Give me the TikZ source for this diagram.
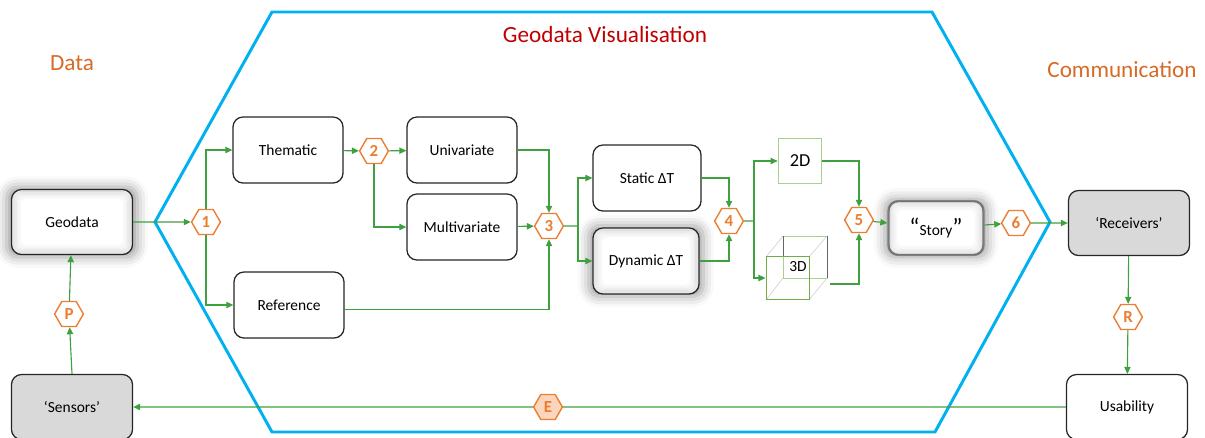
\documentclass[tikz,border=0pt]{standalone}
\usepackage{fontspec}
\setmainfont{Carlito}
\usepackage{xcolor}
\definecolor{Flow}{RGB}{62,160,62}
\definecolor{Step}{RGB}{237,125,49}
\definecolor{StepFill}{RGB}{251,214,188}
\definecolor{Frame}{RGB}{0,176,240}
\definecolor{Title}{RGB}{192,0,0}
\definecolor{Side}{RGB}{214,106,38}
\definecolor{Edge}{RGB}{38,38,38}
\definecolor{Grey}{RGB}{217,217,217}
\definecolor{Leaf}{RGB}{112,173,71}
\definecolor{Pale}{RGB}{169,209,142}
\usetikzlibrary{shapes.geometric,arrows.meta,shadows.blur}

\begin{document}
\begin{tikzpicture}[x=0.025cm, y=-0.025cm,
	box/.style={draw=Edge, rounded corners=0.25cm, line width=0.9pt, fill=white, minimum width=2.75cm, minimum height=1.65cm, inner sep=0pt, font=\fontsize{11}{13}\selectfont},
	wide/.style={box, minimum width=3.025cm, minimum height=1.625cm},
	glow/.style={blur shadow={shadow xshift=0pt, shadow yshift=0pt, shadow scale=1.08, shadow blur radius=7pt, shadow opacity=38}},
	hexa/.style={regular polygon, regular polygon sides=6, draw=Step, fill=white, line width=1pt, minimum size=0.72cm, inner sep=0pt, text=Step, font=\bfseries\fontsize{12}{14}\selectfont},
	flow/.style={draw=Flow, line width=0.8pt},
	arr/.style={flow, -{Triangle[length=5pt,width=4.5pt]}},
	head/.style={font=\fontsize{16.5}{19}\selectfont}
	]
	\useasboundingbox (0,0) rectangle (1205,437);
	
	% Frame
	\draw [Frame, line width=2.1pt] (155,222) -- (272,12) -- (932,12) -- (1050,222) -- (935,432) -- (272,432) -- cycle;
	
	% Headings
	\node[head, text=Side] (data) at (72,63) {Data};
	\node[head, text=Title] (vis) at (605,35) {Geodata Visualisation};
	\node[head, text=Side] (comm) at (1122,70) {Communication};
	
	% Boxes
	\node[wide, glow] (geo) at (72,222) {Geodata};
	\node[wide, fill=Grey] (sens) at (72,407) {‘Sensors’};
	\node[box] (them) at (288,150) {Thematic};
	\node[box] (uni) at (462,150) {Univariate};
	\node[box] (multi) at (462,227) {Multivariate};
	\node[box] (ref) at (289,305) {Reference};
	\node[box, minimum width=2.7cm] (stat) at (647,178) {Static ΔT};
	\node[box, glow, minimum width=2.65cm] (dyn) at (646,261) {Dynamic ΔT};
	\node[box, glow, draw=gray, line width=1.6pt, minimum width=2.375cm, minimum height=1.35cm] (story) at (936,228) {{\LARGE“}Story{\LARGE”}};
	\node[wide, fill=Grey] (rec) at (1129,223) {‘Receivers’};
	\node[wide] (usa) at (1127,407) {Usability};
	
	% Inner glow
	\foreach \n in {geo,dyn,story}
	\foreach \d/\o in {1.5/0.10,2.5/0.09,3.5/0.07,4.5/0.05,5.5/0.035,6.5/0.02}
	\draw [black, opacity=\o, line width=1.1pt, rounded corners=0.18cm] ([shift={(\d pt,-\d pt)}]\n.north west) rectangle ([shift={(-\d pt,\d pt)}]\n.south east);
	
	% 2D and 3D
	\node[draw=Pale, line width=1.2pt, minimum width=1.075cm, minimum height=1.125cm, font=\fontsize{13}{15}\selectfont] (d2) at (800,161) {2D};
	\draw [Pale, line width=0.6pt] (783,236) rectangle (827,278);
	\draw [gray!40, line width=0.4pt] (766,257) -- (783,236) (809,257) -- (827,236) (766,300) -- (783,278) (809,300) -- (827,278);
	\draw [gray!80!black, line width=0.5pt] (783,236) -- (783,257) (827,236) -- (827,278);
	\node[draw=Leaf, line width=1.4pt, minimum size=1.075cm, inner sep=0pt] (d3) at (788,278) {};
	\node[font=\fontsize{11}{13}\selectfont] (t3d) at (798,267) {3D};
	\coordinate (o3) at (830,284);
	
	% Steps
	\node[hexa] (h1) at (206,222) {1};
	\node[hexa] (h2) at (374,151) {2};
	\node[hexa] (h3) at (549,226) {3};
	\node[hexa] (h4) at (729,221) {4};
	\node[hexa] (h5) at (859,220) {5};
	\node[hexa] (h6) at (1016,223) {6};
	\node[hexa] (hp) at (69,314) {P};
	\node[hexa] (hr) at (1128,317) {R};
	\node[hexa, fill=StepFill] (he) at (548,407) {E};
	\coordinate (s3) at (578,226);
	\coordinate (s4) at (754,221);
	
	% Flows
	\draw [arr] (geo) -- (h1);
	\draw [arr] (h1.north) |- (them.west);
	\draw [arr] (h1.south) |- (ref.west);
	\draw [arr] (them) -- (h2);
	\draw [arr] (h2) -- (uni);
	\draw [arr] (h2.south) |- (multi.west);
	\draw [arr] (uni.east) -| (h3.north);
	\draw [arr] (multi) -- (h3);
	\draw [arr] ([yshift=-0.12cm]ref.east) -| (h3.south);
	\draw [flow] (h3.east) -- (s3);
	\draw [arr] (s3) |- (stat.west);
	\draw [arr] (s3) |- (dyn.west);
	\draw [arr] (stat.east) -| (h4.north);
	\draw [arr] (dyn.east) -| (h4.south);
	\draw [flow] (h4.east) -- (s4);
	\draw [arr] (s4) |- (d2.west);
	\draw [arr] (s4) |- (d3.west);
	\draw [arr] (d2.east) -| (h5.north);
	\draw [arr] (o3) -| (h5.south);
	\draw [arr] (h5) -- (story);
	\draw [arr] (story) -- (h6);
	\draw [arr] (h6) -- (rec);
	\draw [arr] (rec) -- (hr);
	\draw [arr] (hr) -- (usa);
	\draw [flow] (usa.west) -- (he.east);
	\draw [arr] (he.west) -- (sens.east);
	\draw [arr] (sens.north) -- (hp);
	\draw [arr] (hp) -- (geo);
	
\end{tikzpicture}
\end{document}
